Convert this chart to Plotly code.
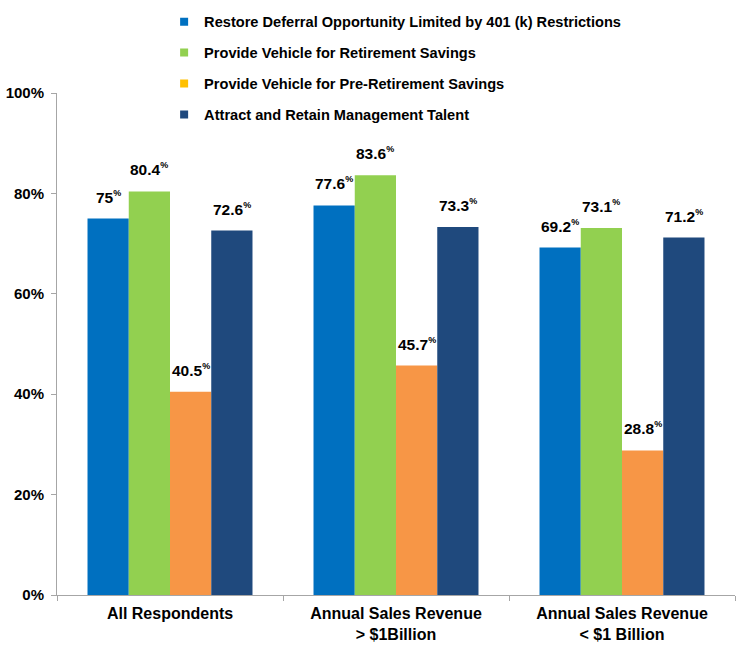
import plotly.graph_objects as go

categories = ["All Respondents", "Annual Sales Revenue<br>&gt; $1Billion", "Annual Sales Revenue<br>&lt; $1 Billion"]
series_names = [
    "Restore Deferral Opportunity Limited by 401 (k) Restrictions",
    "Provide Vehicle for Retirement Savings",
    "Provide Vehicle for Pre-Retirement Savings",
    "Attract and Retain Management Talent",
]
restore_vals = [75.0, 77.6, 69.2]
retirement_vals = [80.4, 83.6, 73.1]
preretirement_vals = [40.5, 45.7, 28.8]
talent_vals = [72.6, 73.3, 71.2]
y_ticks = [0, 20, 40, 60, 80, 100]
y_tick_labels = ["0%", "20%", "40%", "60%", "80%", "100%"]

bar_colors = ["#0070C0", "#92D050", "#F79646", "#1F497D"]
legend_colors = ["#0070C0", "#92D050", "#FFC000", "#1F497D"]
all_vals = [restore_vals, retirement_vals, preretirement_vals, talent_vals]

FONT = "Liberation Sans, Arial, sans-serif"
BARGAP = 0.27

fig = go.Figure()
for name, vals, col in zip(series_names, all_vals, bar_colors):
    fig.add_trace(go.Bar(
        x=categories, y=vals, name=name, marker_color=col,
        marker_line_width=0, showlegend=False, hoverinfo="skip",
    ))

for i, (name, col) in enumerate(zip(series_names, legend_colors)):
    fig.add_trace(go.Scatter(
        x=[None], y=[None], mode="markers", name=name, legendgroup=f"g{i}",
        marker=dict(symbol="square", size=8, color=col),
    ))

n = len(all_vals)
w = (1 - BARGAP) / n
annotations = []
for si, vals in enumerate(all_vals):
    for ci, v in enumerate(vals):
        xpos = ci - (1 - BARGAP) / 2 + w * (si + 0.5)
        annotations.append(dict(
            x=xpos, y=v, xref="x", yref="y",
            text=f"<b>{v:g}<sup><span style='font-size:9px'>%</span></sup></b>",
            showarrow=False, yanchor="bottom", yshift=11,
            font=dict(family=FONT, size=15.5, color="#000000"),
        ))

fig.update_layout(
    width=740, height=660,
    margin=dict(l=57, r=5, t=93, b=65, autoexpand=False),
    paper_bgcolor="white", plot_bgcolor="white",
    barmode="group", bargap=BARGAP, bargroupgap=0,
    font=dict(family=FONT, size=14, color="#000000"),
    annotations=annotations,
    legend=dict(
        x=0.158, y=1.174, xanchor="left", yanchor="top",
        bgcolor="rgba(0,0,0,0)", tracegroupgap=9,
        font=dict(family=FONT, size=14.6, color="#000000", weight="bold"),
        itemwidth=30,
    ),
    xaxis=dict(
        showline=True, linecolor="#A6A6A6", linewidth=1,
        ticks="outside", tickson="boundaries", ticklen=5, tickcolor="#A6A6A6",
        tickfont=dict(family=FONT, size=16, color="#000000", weight="bold"),
        ticklabelstandoff=4,
        showgrid=False,
    ),
    yaxis=dict(
        range=[0, 100], tickvals=y_ticks, ticktext=y_tick_labels,
        showline=True, linecolor="#A6A6A6", linewidth=1,
        ticks="outside", ticklen=5, tickcolor="#A6A6A6",
        tickfont=dict(family=FONT, size=15, color="#000000", weight="bold"),
        ticklabelstandoff=4,
        showgrid=False, zeroline=False,
    ),
)

fig.write_html("out.html")
